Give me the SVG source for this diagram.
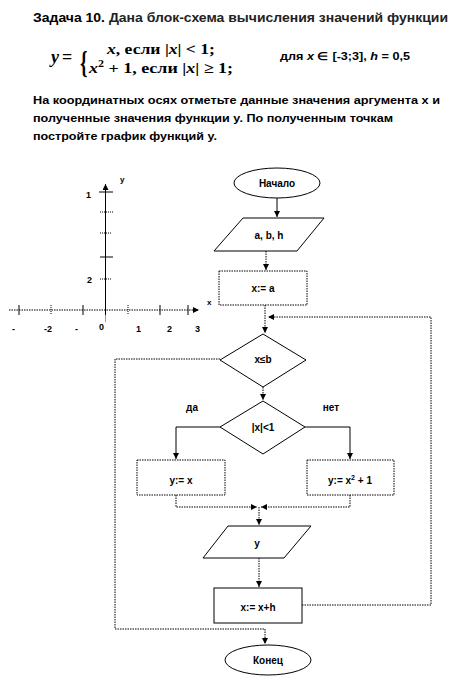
<svg xmlns="http://www.w3.org/2000/svg" width="476" height="679" viewBox="0 0 476 679">
<style>
.t{font-family:"Liberation Sans",Arial,sans-serif;font-weight:bold;fill:#000}
.m{font-family:"Liberation Serif","Times New Roman",serif;font-weight:bold;fill:#000}
.f{fill:#fff;stroke:#000;stroke-width:1}
.fd{fill:#fff;stroke:#000;stroke-width:1;stroke-dasharray:1.5,1}
.c{fill:none;stroke:#000;stroke-width:1}
.d{fill:none;stroke:#000;stroke-width:1;stroke-dasharray:1.5,1}
.n{font-size:10px;text-anchor:middle}
</style>
<defs>
<marker id="a" markerUnits="userSpaceOnUse" markerWidth="7" markerHeight="7" refX="6" refY="3" orient="auto"><path d="M0,0 L6,3 L0,6 z" fill="#000"/></marker>
</defs>
<rect width="476" height="679" fill="#fff"/>
<g id="header">
<text class="t" x="33" y="22" font-size="13" textLength="415" lengthAdjust="spacingAndGlyphs">Задача 10. <tspan font-weight="bold" fill="#222">Дана блок-схема вычисления значений   функции</tspan></text>
<text class="m" x="51" y="63" font-size="18" font-style="italic">y</text>
<text class="m" x="62" y="63" font-size="18">=</text>
<text class="m" x="80" y="73" font-size="32" font-weight="normal" transform="translate(80 0) scale(0.6 1) translate(-80 0)">{</text>
<text class="m" x="107" y="54" font-size="15" textLength="108" lengthAdjust="spacingAndGlyphs"><tspan font-style="italic">x</tspan>, если |<tspan font-style="italic">x</tspan>| &lt; 1;</text>
<text class="m" x="89" y="73" font-size="15" textLength="144" lengthAdjust="spacingAndGlyphs"><tspan font-style="italic">x</tspan><tspan dy="-6" font-size="10">2</tspan><tspan dy="6"> + 1, если |</tspan><tspan font-style="italic">x</tspan>| ≥ 1;</text>
<text class="t" x="280" y="60" font-size="11" textLength="130" lengthAdjust="spacingAndGlyphs">для <tspan font-style="italic">x</tspan> ∈ [-3;3], <tspan font-style="italic">h</tspan> = 0,5</text>
<text class="t" x="33" y="104" font-size="11.5" textLength="407" lengthAdjust="spacingAndGlyphs">На координатных осях отметьте данные значения аргумента x и</text>
<text class="t" x="33" y="122" font-size="11.5" textLength="360" lengthAdjust="spacingAndGlyphs">полученные значения функции y. По полученным точкам</text>
<text class="t" x="33" y="140" font-size="11.5" textLength="184" lengthAdjust="spacingAndGlyphs">постройте график функций y.</text>
</g>
<g id="axes">
<line class="d" x1="9" y1="310" x2="199" y2="310" marker-end="url(#a)"/>
<line class="c" x1="105.5" y1="315" x2="105.5" y2="184" marker-end="url(#a)"/>
<line x1="105.5" y1="315" x2="105.5" y2="322" stroke="#999" stroke-width="1"/>
<g stroke="#000" stroke-width="1">
<line x1="99" y1="192" x2="113" y2="192"/>
<line x1="100" y1="212" x2="113" y2="212" stroke-dasharray="1,1"/>
<line x1="100" y1="233" x2="112" y2="233" stroke-dasharray="1,1"/>
<line x1="100" y1="257" x2="113" y2="257"/>
<line x1="100" y1="279" x2="112" y2="279" stroke-dasharray="1,1"/>
<line x1="19" y1="305" x2="19" y2="315"/>
<line x1="51" y1="305" x2="51" y2="315" stroke-dasharray="1,1"/>
<line x1="83" y1="305" x2="83" y2="315"/>
<line x1="128" y1="305" x2="128" y2="315" stroke-dasharray="1,1"/>
<line x1="160" y1="305" x2="160" y2="315"/>
<line x1="188" y1="305" x2="188" y2="315"/>
</g>
<text class="t" x="120" y="182" font-size="8">y</text>
<text class="t" x="86" y="198" font-size="9">1</text>
<text class="t" x="87" y="283" font-size="9">2</text>
<text class="t" x="207" y="305" font-size="8">x</text>
<text class="t" x="12" y="332" font-size="9">-</text>
<text class="t" x="44" y="332" font-size="9">-2</text>
<text class="t" x="75" y="332" font-size="9">-</text>
<text class="t" x="99" y="330" font-size="9">0</text>
<text class="t" x="136" y="332" font-size="9">1</text>
<text class="t" x="167" y="332" font-size="9">2</text>
<text class="t" x="195" y="332" font-size="9">3</text>
</g>
<g id="connectors">
<path class="c" d="M277,198 L277,217" marker-end="url(#a)"/>
<path class="d" d="M266,251 L266,270" marker-end="url(#a)"/>
<path class="d" d="M265,305 L265,333" marker-end="url(#a)"/>
<path class="d" d="M302,605 L431,605 L431,317 L268,317" marker-end="url(#a)"/>
<path class="d" d="M220,359 L115,359 L115,629 L265,629 L265,644" marker-end="url(#a)"/>
<path class="d" d="M263,387 L263,400" marker-end="url(#a)"/>
<path class="c" d="M220,427 L176,427 L176,459" marker-end="url(#a)"/>
<path class="c" d="M305,427 L350,427 L350,459" marker-end="url(#a)"/>
<path class="d" d="M176,495 L176,507 L257,507" marker-end="url(#a)"/>
<path class="d" d="M350,495 L350,507 L261,507" marker-end="url(#a)"/>
<path class="d" d="M259,507 L259,525" marker-end="url(#a)"/>
<path class="d" d="M259,558 L259,587" marker-end="url(#a)"/>
</g>
<g id="start">
<ellipse class="f" cx="277" cy="183" rx="43" ry="15"/>
<text class="t n" x="277" y="187">Начало</text>
</g>
<g id="input">
<polygon class="f" points="243,218 324,218 297,251 214,251"/>
<text class="t n" x="269" y="239">a, b, h</text>
</g>
<g id="init">
<rect class="fd" x="219" y="271" width="88" height="34"/>
<text class="t n" x="263" y="292">x:= a</text>
</g>
<g id="cond1">
<polygon class="f" points="263,334 306,360 263,387 220,360"/>
<text class="t n" x="263" y="363">x≤b</text>
</g>
<g id="cond2">
<polygon class="f" points="263,401 305,427 263,454 220,427"/>
<text class="t n" x="263" y="431">|x|&lt;1</text>
<text class="t n" x="192" y="411" font-size="7">да</text>
<text class="t n" x="331" y="411" font-size="7">нет</text>
</g>
<g id="yes">
<rect class="fd" x="137" y="460" width="88" height="35"/>
<text class="t n" x="181" y="484">y:= x</text>
</g>
<g id="no">
<rect class="fd" x="307" y="460" width="87" height="35"/>
<text class="t n" x="350" y="484">y:= x<tspan dy="-4" font-size="7">2</tspan><tspan dy="4"> + 1</tspan></text>
</g>
<g id="output">
<polygon class="f" points="228,526 311,526 284,558 203,558"/>
<text class="t n" x="257" y="547">y</text>
</g>
<g id="step">
<rect class="f" x="214" y="588" width="88" height="35"/>
<text class="t n" x="258" y="611">x:= x+h</text>
</g>
<g id="end">
<ellipse class="f" cx="268" cy="660" rx="43" ry="15"/>
<text class="t n" x="268" y="664">Конец</text>
</g>
</svg>
